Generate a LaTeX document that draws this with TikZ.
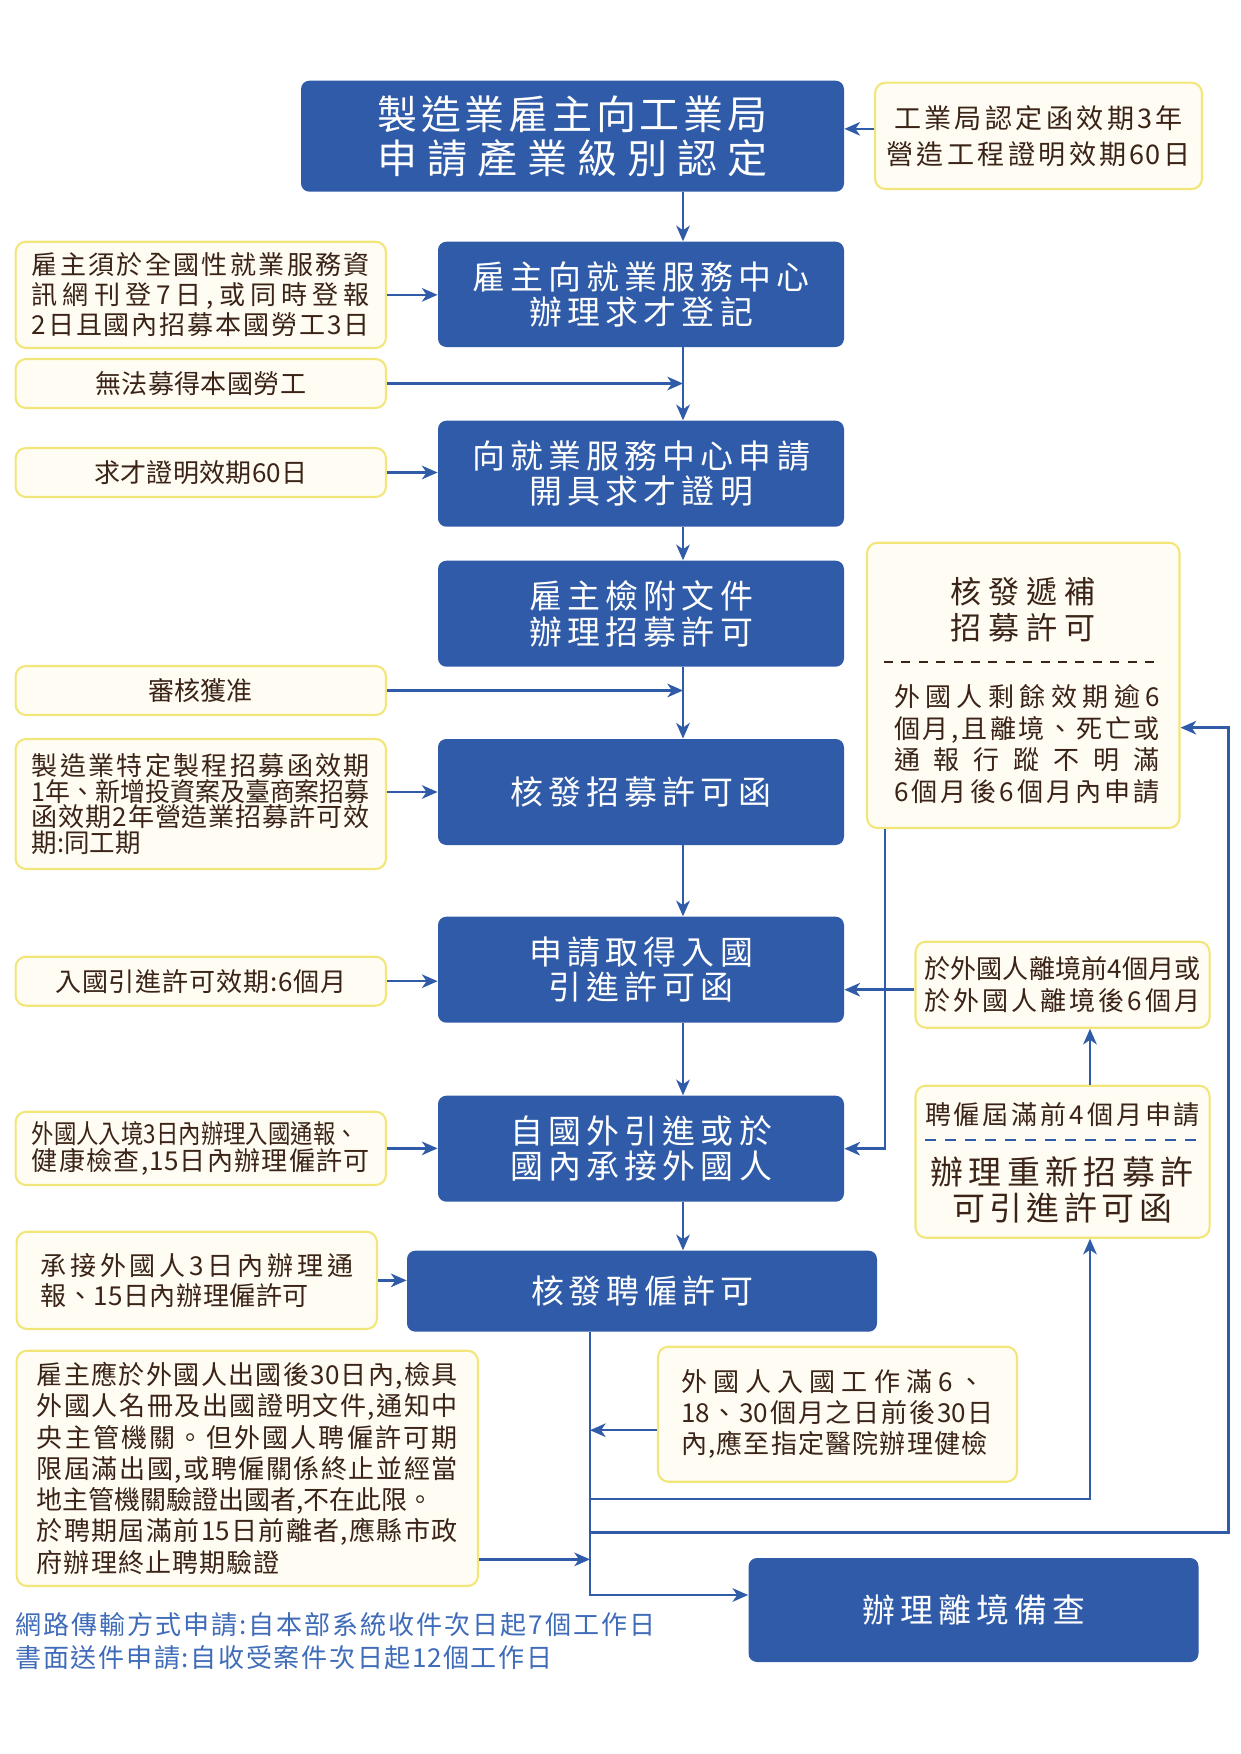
\documentclass[tikz,border=0pt]{standalone}
\usepackage{fontspec}
\setmainfont{Noto Sans CJK TC}
\usetikzlibrary{calc,arrows.meta}
\definecolor{bb}{HTML}{2F5BA8}
\definecolor{nf}{HTML}{FFFCF3}
\definecolor{ny}{HTML}{F2E67A}
\definecolor{nt}{HTML}{3B2417}
\definecolor{fb}{HTML}{3F6CB9}
\ExplSyntaxOn
\dim_new:N \l_jl_dim
\box_new:N \l_jl_box
\NewDocumentCommand\jl{mm}{
  \mode_leave_vertical:
  \dim_set:Nn \l_jl_dim { \fp_to_dim:n { 0.48 * (#1) } }
  \hbox_set:Nn \l_jl_box {#2}
  \dim_compare:nNnTF {\box_wd:N \l_jl_box} > {\l_jl_dim}
    {
      \box_scale:Nnn \l_jl_box
        { \dim_to_fp:n {\l_jl_dim} / \dim_to_fp:n {\box_wd:N \l_jl_box} } {1}
      \box_use:N \l_jl_box
    }
    {
      \hbox_to_wd:nn {\l_jl_dim} { \tl_map_inline:nn {#2} {##1\hfil} \unskip }
    }
}
\ExplSyntaxOff
\tikzset{
  place/.style n args={4}{minimum width={(#3-#1)*0.48pt}, minimum height={(#4-#2)*0.48pt},
    at={({(#1+#3)/2},{(#2+#4)/2})}},
  bbox/.style={fill=bb, rounded corners=4pt, inner sep=0pt, text=white, align=center,
    font=\fontsize{15.8}{17}\selectfont},
  note/.style={fill=nf, draw=ny, line width=1pt, rounded corners=5pt, inner sep=0pt,
    text=nt, align=center, font=\fontsize{12.5}{14.4}\selectfont},
  ntext/.style={inner sep=0pt, text=nt, align=center},
  arr/.style={draw=bb, line width=1.2pt, -{Stealth[length=7.5pt,width=6.5pt,inset=2.2pt]}},
}
\begin{document}
\begin{tikzpicture}[x=0.48pt,y=-0.48pt]
\useasboundingbox (0,0) rectangle (1241,1754);
\coordinate (vx) at (683,0);
\coordinate (vx2) at (885,0);
\coordinate (vx3) at (1090,0);
\coordinate (vx4) at (590,0);

% main blue boxes
\node[bbox, place={301}{80.7}{844}{191.7}, font=\fontsize{19.2}{21.1}\selectfont] (top)
  {\jl{390}{製造業雇主向工業局}\\\jl{390}{申請產業級別認定}};
\node[bbox, place={438}{241.7}{844}{347}] (b2) {\jl{337}{雇主向就業服務中心}\\\jl{224}{辦理求才登記}};
\node[bbox, place={438}{420.7}{844}{526.7}] (b3) {\jl{338}{向就業服務中心申請}\\\jl{224}{開具求才證明}};
\node[bbox, place={438}{560.7}{844}{666.7}] (b4) {\jl{224}{雇主檢附文件}\\\jl{224}{辦理招募許可}};
\node[bbox, place={438}{739}{844}{845}] (b5) {\jl{261}{核發招募許可函}};
\node[bbox, place={438}{916.7}{844}{1022.7}] (b6) {\jl{224}{申請取得入國}\\\jl{185}{引進許可函}};
\node[bbox, place={438}{1095.7}{844}{1201.7}] (b7) {\jl{262}{自國外引進或於}\\\jl{262}{國內承接外國人}};
\node[bbox, place={407}{1250.7}{877}{1331.7}] (b8) {\jl{222}{核發聘僱許可}};
\node[bbox, place={748.6}{1558}{1198.5}{1662}] (b9) {\jl{223}{辦理離境備查}};

% left notes
\node[note, place={15.6}{241.7}{386}{348}] (n1)
  {\jl{338}{雇主須於全國性就業服務資}\\\jl{338}{訊網刊登7日,或同時登報}\\\jl{338}{2日且國內招募本國勞工3日}};
\node[note, place={15.6}{359}{386}{408}] (n2) {\jl{211}{無法募得本國勞工}};
\node[note, place={15.6}{448}{386}{497}] (n3) {\jl{213}{求才證明效期{60}日}};
\node[note, place={15.6}{666}{386}{715}] (n4) {\jl{104}{審核獲准}};
\node[note, place={15.6}{739}{386}{869}, align=left, font=\fontsize{12.5}{12.25}\selectfont] (n5)
  {\jl{338}{製造業特定製程招募函效期}\\\jl{338}{1年、新增投資案及臺商案招募}\\\jl{338}{函效期2年營造業招募許可效}\\\jl{109}{期:同工期}};
\node[note, place={15.6}{956.7}{386}{1005.7}] (n6) {\jl{291}{入國引進許可效期:6個月}};
\node[note, place={15.6}{1111.7}{386}{1185}, align=left, font=\fontsize{12.5}{12.8}\selectfont] (n7)
  {\jl{326}{外國人入境3日內辦理入國通報、}\\\jl{338}{健康檢查,{15}日內辦理僱許可}};
\node[note, place={16.6}{1231.7}{377}{1329}, align=left] (n8)
  {\jl{312.5}{承接外國人3日內辦理通}\\\jl{268.5}{報、{15}日內辦理僱許可}};
\node[note, place={16.6}{1350.7}{478}{1586}, align=left, font=\fontsize{12.5}{15}\selectfont] (n10)
  {\jl{421}{雇主應於外國人出國後{30}日內,檢具}\\
   \jl{421}{外國人名冊及出國證明文件,通知中}\\
   \jl{421}{央主管機關。但外國人聘僱許可期}\\
   \jl{421}{限屆滿出國,或聘僱關係終止並經當}\\
   \jl{397}{地主管機關驗證出國者,不在此限。}\\
   \jl{421}{於聘期屆滿前{15}日前離者,應縣市政}\\
   \jl{243}{府辦理終止聘期驗證}};

% right notes
\node[note, place={875}{82.7}{1202}{189}, font=\fontsize{13}{17.3}\selectfont] (r1)
  {\jl{289}{工業局認定函效期3年}\\\jl{304}{營造工程證明效期{60}日}};
\node[note, place={867}{542.7}{1179.5}{828}] (r2) {};
\node[ntext, font=\fontsize{14.9}{17.3}\selectfont] (r2a) at (1023,610) {\jl{145}{核發遞補}\\\jl{145}{招募許可}};
\draw[nt, line width=1pt, dash pattern=on 4.3pt off 4.05pt] (884,661.7) -- (1160,661.7);
\node[ntext, font=\fontsize{12.5}{15.2}\selectfont] (r2b) at (1027,744)
  {\jl{266}{外國人剩餘效期逾6}\\\jl{266}{個月,且離境、死亡或}\\\jl{266}{通報行蹤不明滿}\\\jl{266}{6個月後6個月內申請}};
\node[note, place={915.5}{941.7}{1209.6}{1027.7}, font=\fontsize{12.5}{15.4}\selectfont] (r3)
  {\jl{277}{於外國人離境前4個月或}\\\jl{276}{於外國人離境後6個月}};
\node[note, place={915.5}{1085.7}{1209.6}{1237.7}] (r4) {};
\node[ntext, font=\fontsize{12.5}{14.4}\selectfont] (r4a) at (1062.5,1115) {\jl{275}{聘僱屆滿前4個月申請}};
\draw[bb, line width=1pt, dash pattern=on 5.3pt off 4.3pt] (925,1140) -- (1202,1140);
\node[ntext, font=\fontsize{15.8}{17.4}\selectfont] (r4b) at (1062,1190)
  {\jl{263}{辦理重新招募許}\\\jl{220}{可引進許可函}};
\node[note, place={658}{1346.7}{1017}{1481.7}, align=left, font=\fontsize{12.5}{14.9}\selectfont] (n9)
  {\jl{304}{外國人入國工作滿6、}\\\jl{313}{{18}、{30}個月之日前後{30}日}\\\jl{306.5}{內,應至指定醫院辦理健檢}};

% footer
\node[inner sep=0pt, anchor=west, align=left, text=fb, font=\fontsize{12.5}{15.8}\selectfont] (ft) at (15,1641)
  {\jl{640}{網路傳輸方式申請:自本部系統收件次日起7個工作日}\\\jl{537}{書面送件申請:自收受案件次日起{12}個工作日}};

% connectors main column
\draw[arr] (top.south -| vx) -- (b2.north -| vx);
\draw[arr] (n1.east) -- (n1.east -| b2.west);
\draw[arr] (b2.south -| vx) -- (b3.north -| vx);
\draw[arr] (n2.east) -- (n2.east -| vx);
\draw[arr] (n3.east) -- (n3.east -| b3.west);
\draw[arr] (b3.south -| vx) -- (b4.north -| vx);
\draw[arr] (b4.south -| vx) -- (b5.north -| vx);
\draw[arr] (n4.east) -- (n4.east -| vx);
\draw[arr] (b5.west -| n5.east) -- (b5.west);
\draw[arr] (b5.south -| vx) -- (b6.north -| vx);
\draw[arr] (n6.east) -- (n6.east -| b6.west);
\draw[arr] (b6.south -| vx) -- (b7.north -| vx);
\draw[arr] (n7.east) -- (n7.east -| b7.west);
\draw[arr] (b7.south -| vx) -- (b8.north -| vx);
\draw[arr] (n8.east) -- (n8.east -| b8.west);

% right side
\coordinate (r1a) at ($(r1.west)+(0,-7)$);
\draw[arr] (r1a) -- (r1a -| top.east);
\draw[arr] (r2.south -| vx2) |- (b7.east);
\coordinate (r3w) at ($(r3.west)+(0,5)$);
\draw[arr] (r3w) -- (r3w -| b6.east);
\draw[arr] (r4.north -| vx3) -- (r3.south -| vx3);

% bottom
\coordinate (b9w) at ($(b9.west)+(0,-15)$);
\draw[arr] (b8.south -| vx4) |- (b9w);
\coordinate (n9a) at ($(n9.west)+(0,16)$);
\draw[arr] (n9a) -- (n9a -| vx4);
\coordinate (n10a) at ($(n10.east)+(0,91)$);
\draw[arr] (n10a) -- (n10a -| vx4);
\coordinate (t1) at (590,1499);
\draw[arr] (t1) -| (r4.south -| vx3);
\coordinate (t2) at (590,1532.7);
\coordinate (t3) at (1228.7,727.7);
\draw[arr] (t2) -| (t3) -- (t3 -| r2.east);
\end{tikzpicture}
\end{document}
